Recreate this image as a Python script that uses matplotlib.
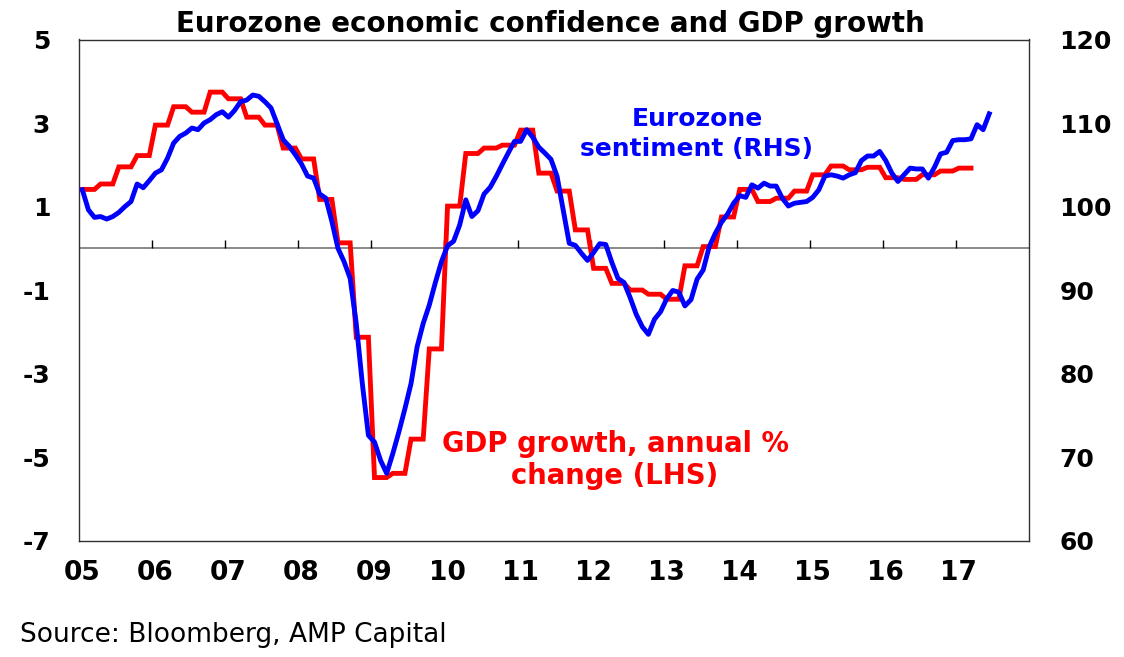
import numpy as np
import matplotlib
matplotlib.use("Agg")
import matplotlib.pyplot as plt
import matplotlib.transforms as mtransforms

plt.rcParams['font.family'] = ['DejaVu Sans']
plt.rcParams['axes.unicode_minus'] = False

# ---------------- data ----------------
# Eurozone GDP growth, annual % change, quarterly 2005Q1 .. 2017Q1 (LHS)
gdp_quarterly = [
    1.41, 1.54, 1.95, 2.22,      # 2005
    2.95, 3.39, 3.26, 3.74,      # 2006
    3.58, 3.14, 2.95, 2.40,      # 2007
    2.14, 1.17, 0.13, -2.13,     # 2008
    -5.49, -5.39, -4.57, -2.41,  # 2009
    1.01, 2.27, 2.40, 2.47,      # 2010
    2.83, 1.80, 1.37, 0.44,      # 2011
    -0.48, -0.84, -1.00, -1.10,  # 2012
    -1.22, -0.42, 0.04, 0.75,    # 2013
    1.41, 1.12, 1.20, 1.37,      # 2014
    1.76, 1.97, 1.88, 1.94,      # 2015
    1.69, 1.65, 1.76, 1.85,      # 2016
    1.92,                        # 2017
]

# Eurozone economic sentiment, monthly Jan 2005 .. Jun 2017 (RHS)
sentiment_monthly = [
    102.0, 99.6, 98.7, 98.8, 98.5, 98.8, 99.3, 100.0, 100.6, 102.7, 102.25, 103.1,     # 2005
    104.0, 104.4, 105.8, 107.6, 108.4, 108.8, 109.4, 109.2, 110.0, 110.4, 111.0, 111.35,  # 2006
    110.7, 111.5, 112.55, 112.75, 113.35, 113.2, 112.55, 111.8, 109.9, 108.0, 107.2, 106.2,  # 2007
    105.1, 103.65, 103.4, 101.5, 101.0, 98.2, 95.0, 93.4, 91.4, 86.0, 78.8, 72.6,      # 2008
    71.8, 69.6, 68.05, 70.4, 73.0, 75.8, 78.8, 83.2, 86.0, 88.2, 90.9, 93.4,           # 2009
    95.3, 95.85, 97.8, 100.8, 98.8, 99.5, 101.5, 102.3, 103.6, 105.05, 106.45, 107.8,  # 2010
    107.8, 109.2, 108.3, 107.1, 106.4, 105.65, 103.6, 99.6, 95.6, 95.35, 94.4, 93.55,  # 2011
    94.5, 95.55, 95.45, 93.3, 91.4, 90.9, 89.1, 87.1, 85.6, 84.7, 86.5, 87.4,          # 2012
    88.95, 89.95, 89.75, 88.1, 88.85, 91.3, 92.4, 95.2, 96.8, 98.1, 99.1, 100.4,       # 2013
    101.3, 101.1, 102.6, 102.2, 102.8, 102.45, 102.45, 101.0, 100.06, 100.4, 100.5, 100.6,  # 2014
    101.1, 102.0, 103.65, 103.8, 103.65, 103.4, 103.8, 104.05, 105.5, 106.05, 106.05, 106.6,  # 2015
    105.5, 104.0, 103.0, 103.8, 104.6, 104.5, 104.5, 103.4, 104.7, 106.3, 106.5, 107.9,  # 2016
    108.0, 108.0, 108.1, 109.8, 109.2, 111.1,                                           # 2017
]

start_year = 2005
end_year = 2018
year_ticks = list(range(2005, 2018))
year_labels = ['05', '06', '07', '08', '09', '10', '11', '12', '13', '14', '15', '16', '17']
lhs_ticks = [-7, -5, -3, -1, 1, 3, 5]
rhs_ticks = [60, 70, 80, 90, 100, 110, 120]

# monthly positions (centre of each month)
gdp_monthly = np.repeat(gdp_quarterly, 3)
x_gdp = start_year + (np.arange(len(gdp_monthly)) + 0.5) / 12.0
x_sent = start_year + (np.arange(len(sentiment_monthly)) + 0.5) / 12.0

# ---------------- figure ----------------
W, H = 1124, 657
fig = plt.figure(figsize=(W / 100, H / 100), dpi=100)
left_px, right_px, top_px, bot_px = 79.3, 1028.8, 39.5, 540.6
ax = fig.add_axes([left_px / W, 1 - bot_px / H, (right_px - left_px) / W, (bot_px - top_px) / H])
ax2 = ax.twinx()

ax.set_xlim(start_year, end_year)
ax.set_ylim(-7, 5)
ax2.set_ylim(60, 120)

red = '#FF0000'
blue = '#0000FF'

ax.plot(x_gdp, gdp_monthly, color=red, lw=3.5, solid_joinstyle='miter', zorder=3)
ax2.plot(x_sent, sentiment_monthly, color=blue, lw=3.5, solid_joinstyle='round', zorder=4)

# zero line with year ticks pointing up
ax.axhline(0, color='#808080', lw=1.3, zorder=1)
trans = mtransforms.blended_transform_factory(ax.transData, ax.transAxes)
y0 = (0 - (-7)) / 12.0
ax.vlines(year_ticks[1:], y0, y0 + 8 / (bot_px - top_px), transform=trans,
          color='black', lw=1.0, zorder=1)

# spines
for sp in ['left', 'bottom', 'top', 'right']:
    ax.spines[sp].set_color('#303030')
    ax.spines[sp].set_linewidth(1.0)
    ax2.spines[sp].set_visible(False)

# ticks
ax.set_xticks([y + 0.04 for y in year_ticks])
ax.set_xticklabels(year_labels)
ax.tick_params(axis='x', length=0, pad=14, labelsize=19)
ax.set_yticks(lhs_ticks)
ax.tick_params(axis='y', length=0, pad=21, labelsize=18)
ax2.set_yticks(rhs_ticks)
ax2.tick_params(axis='y', length=0, pad=22, labelsize=18)
for lbl in ax.get_xticklabels() + ax.get_yticklabels() + ax2.get_yticklabels():
    lbl.set_fontweight('bold')

# texts
def fx(px):
    return px / W

def fy(py):
    return 1 - py / H

fig.text(fx(550), fy(31.7), 'Eurozone economic confidence and GDP growth',
         ha='center', va='baseline', fontsize=20, fontweight='bold')
fig.text(fx(697), fy(126), 'Eurozone', ha='center', va='baseline',
         fontsize=18, fontweight='bold', color=blue)
fig.text(fx(697), fy(156), 'sentiment (RHS)', ha='center', va='baseline',
         fontsize=18, fontweight='bold', color=blue)
fig.text(fx(615), fy(452), 'GDP growth, annual %', ha='center', va='baseline',
         fontsize=19.8, fontweight='bold', color=red)
fig.text(fx(615), fy(484), 'change (LHS)', ha='center', va='baseline',
         fontsize=19.8, fontweight='bold', color=red)
fig.text(fx(20), fy(641.7), 'Source: Bloomberg, AMP Capital', ha='left', va='baseline',
         fontsize=19)

fig.savefig('out.png', dpi=100)
